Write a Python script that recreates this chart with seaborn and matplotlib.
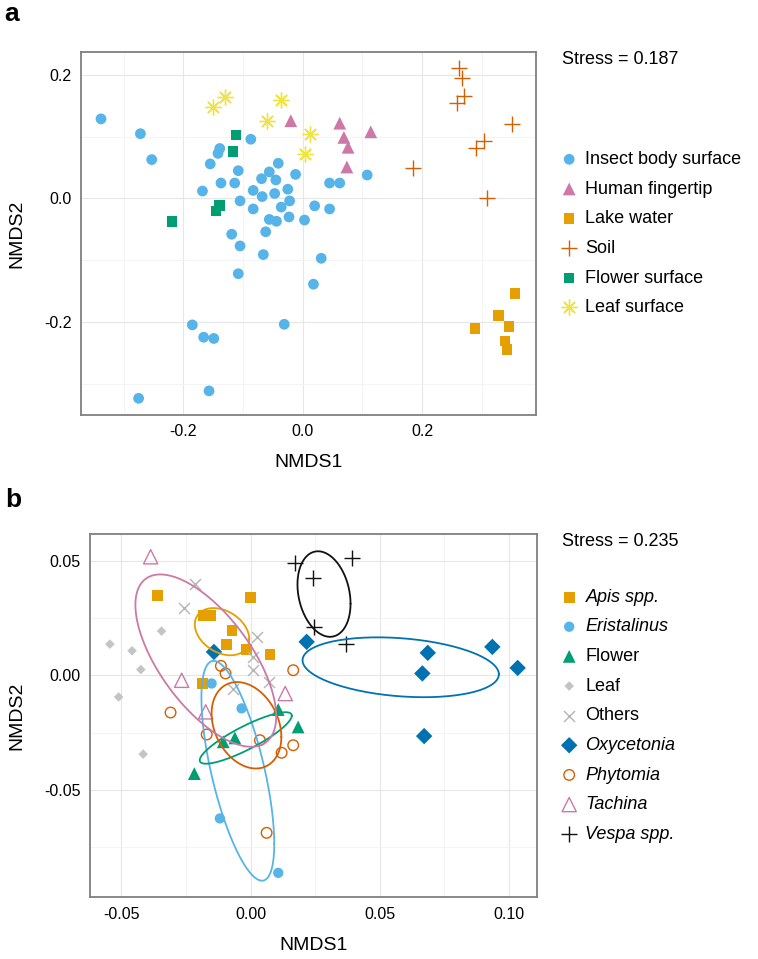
import numpy as np
import pandas as pd
import matplotlib as mpl
mpl.use('Agg')
import matplotlib.pyplot as plt
import seaborn as sns

sns.set_theme(style='white')
plt.rcParams['font.family'] = ['Liberation Sans', 'DejaVu Sans']
plt.rcParams['axes.unicode_minus'] = False
plt.rcParams['text.color'] = 'black'
plt.rcParams['axes.labelcolor'] = 'black'

# ---------------- panel a: sample sources ----------------
insect_x = [-0.338, -0.272, -0.253, -0.087, -0.139, -0.142, -0.155, -0.108, -0.041, -0.056,
            -0.012, -0.069, -0.045, 0.045, 0.062, 0.108, -0.137, -0.114, -0.168, -0.083,
            -0.025, -0.068, -0.047, -0.022, -0.105, -0.036, -0.083, 0.020, 0.045, -0.056,
            -0.044, -0.023, 0.003, -0.119, -0.062, -0.105, -0.066, 0.031, -0.108, 0.018,
            -0.185, -0.031, -0.166, -0.149, -0.157, -0.275]
insect_y = [0.129, 0.105, 0.063, 0.096, 0.081, 0.073, 0.056, 0.045, 0.057, 0.043,
            0.039, 0.032, 0.030, 0.025, 0.025, 0.038, 0.025, 0.025, 0.012, 0.013,
            0.015, 0.003, 0.008, -0.004, -0.004, -0.014, -0.017, -0.012, -0.017, -0.034,
            -0.037, -0.030, -0.035, -0.058, -0.054, -0.077, -0.091, -0.097, -0.122, -0.139,
            -0.205, -0.204, -0.225, -0.227, -0.312, -0.324]
human_x = [-0.020, 0.062, 0.069, 0.076, 0.074, 0.114]
human_y = [0.126, 0.122, 0.099, 0.083, 0.051, 0.108]
lake_x = [0.289, 0.328, 0.346, 0.339, 0.342, 0.356]
lake_y = [-0.211, -0.190, -0.208, -0.231, -0.245, -0.154]
soil_x = [0.262, 0.267, 0.271, 0.259, 0.351, 0.303, 0.290, 0.184, 0.309]
soil_y = [0.211, 0.195, 0.166, 0.155, 0.120, 0.093, 0.081, 0.050, 0.000]
flowsurf_x = [-0.112, -0.117, -0.139, -0.145, -0.219]
flowsurf_y = [0.103, 0.076, -0.011, -0.020, -0.037]
leafsurf_x = [-0.151, -0.131, -0.036, -0.060, 0.012, 0.003]
leafsurf_y = [0.149, 0.165, 0.159, 0.126, 0.105, 0.072]

a_groups = ['Insect body surface', 'Human fingertip', 'Lake water', 'Soil',
            'Flower surface', 'Leaf surface']
a_x = [insect_x, human_x, lake_x, soil_x, flowsurf_x, leafsurf_x]
a_y = [insect_y, human_y, lake_y, soil_y, flowsurf_y, leafsurf_y]
a_stress = 'Stress = 0.187'

# ---------------- panel b: insect taxa ----------------
apis_x = [-0.0362, -0.0184, -0.0155, 0.0000, -0.0072, -0.0094, -0.0017, 0.0075, -0.0187]
apis_y = [0.0351, 0.0261, 0.0264, 0.0341, 0.0198, 0.0135, 0.0115, 0.0093, -0.0035]
erist_x = [-0.0151, -0.0035, -0.0119, 0.0107]
erist_y = [-0.0035, -0.0144, -0.0625, -0.0863]
flower_x = [0.0107, 0.0184, -0.0061, -0.0106, -0.0218]
flower_y = [-0.0149, -0.0225, -0.0273, -0.0290, -0.0429]
leaf_x = [-0.0545, -0.0459, -0.0425, -0.0345, -0.0511, -0.0416]
leaf_y = [0.0137, 0.0108, 0.0026, 0.0194, -0.0094, -0.0344]
others_x = [-0.0216, -0.0257, 0.0023, 0.0008, 0.0008, 0.0072, -0.0067]
others_y = [0.0398, 0.0297, 0.0169, 0.0081, 0.0023, -0.0028, -0.0057]
oxy_x = [-0.0142, 0.0217, 0.0686, 0.0665, 0.0936, 0.1034, 0.0672]
oxy_y = [0.0103, 0.0147, 0.0099, 0.0009, 0.0125, 0.0033, -0.0265]
phyt_x = [-0.0115, -0.0097, 0.0165, -0.0310, -0.0170, 0.0036, 0.0120, 0.0165, 0.0062]
phyt_y = [0.0042, 0.0009, 0.0023, -0.0162, -0.0258, -0.0283, -0.0338, -0.0305, -0.0688]
tach_x = [-0.0387, -0.0267, -0.0174, 0.0134]
tach_y = [0.0519, -0.0021, -0.0159, -0.0079]
vespa_x = [0.0172, 0.0240, 0.0394, 0.0246, 0.0369]
vespa_y = [0.0492, 0.0427, 0.0512, 0.0213, 0.0136]

b_groups = ['Apis spp.', 'Eristalinus', 'Flower', 'Leaf', 'Others', 'Oxycetonia',
            'Phytomia', 'Tachina', 'Vespa spp.']
b_x = [apis_x, erist_x, flower_x, leaf_x, others_x, oxy_x, phyt_x, tach_x, vespa_x]
b_y = [apis_y, erist_y, flower_y, leaf_y, others_y, oxy_y, phyt_y, tach_y, vespa_y]
b_italic = ['Apis spp.', 'Eristalinus', 'Oxycetonia', 'Phytomia', 'Tachina', 'Vespa spp.']
b_ellipse = ['Apis spp.', 'Eristalinus', 'Flower', 'Oxycetonia', 'Phytomia', 'Tachina', 'Vespa spp.']
b_stress = 'Stress = 0.235'


def make_df(groups, xs, ys):
    return pd.concat([pd.DataFrame({'NMDS1': x, 'NMDS2': y, 'group': g})
                      for g, x, y in zip(groups, xs, ys)], ignore_index=True)


df_a = make_df(a_groups, a_x, a_y)
df_b = make_df(b_groups, b_x, b_y)

# marker styles (kind: fill / open / line)
a_style = {
    'Insect body surface': ('o', 60, '#56B4E9', 'fill', 0),
    'Human fingertip': ('^', 85, '#CC79A7', 'fill', 0),
    'Lake water': ('s', 58, '#E69F00', 'fill', 0),
    'Soil': ('+', 140, '#D55E00', 'line', 1.0),
    'Flower surface': ('s', 58, '#009E73', 'fill', 0),
    'Leaf surface': ((8, 2, 0), 115, '#F0E442', 'line', 1.0),
}
b_style = {
    'Apis spp.': ('s', 62, '#E69F00', 'fill', 0),
    'Eristalinus': ('o', 55, '#56B4E9', 'fill', 0),
    'Flower': ('^', 85, '#009E73', 'fill', 0),
    'Leaf': ('D', 24, '#C4C4C4', 'fill', 0),
    'Others': ('x', 62, '#B4B4B4', 'line', 1.0),
    'Oxycetonia': ('D', 70, '#0072B2', 'fill', 0),
    'Phytomia': ('o', 58, '#D55E00', 'open', 1.0),
    'Tachina': ('^', 105, '#CC79A7', 'open', 1.0),
    'Vespa spp.': ('+', 135, '#111111', 'line', 1.0),
}


def draw_points(ax, df, groups, styles):
    for g in groups:
        marker, size, col, kind, lw = styles[g]
        kw = dict(marker=marker, s=size, linewidth=lw, color=col, label=g, zorder=3)
        if kind == 'open':
            kw.update(facecolor='none', edgecolor=col)
        elif kind == 'fill':
            kw.update(edgecolor='none')
        sns.scatterplot(data=df[df.group == g], x='NMDS1', y='NMDS2', ax=ax,
                        legend=False, **kw)


def se_ellipse(x, y, conf=0.95, n=200):
    # standard-error ellipse of the group centroid
    pts = np.column_stack([x, y])
    center = pts.mean(axis=0)
    cov = np.cov(pts, rowvar=False)
    scale = np.sqrt(-2 * np.log(1 - conf)) / np.sqrt(len(pts))
    t = np.linspace(0, 2 * np.pi, n)
    circ = np.column_stack([np.cos(t), np.sin(t)])
    ell = center + scale * circ @ np.linalg.cholesky(cov).T
    return ell[:, 0], ell[:, 1]


def style_axes(ax, xmaj, xmin, ymaj, ymin, xlim, ylim, fmt):
    ax.set_xlim(*xlim)
    ax.set_ylim(*ylim)
    ax.set_xticks(xmaj)
    ax.set_xticks(xmin, minor=True)
    ax.set_yticks(ymaj)
    ax.set_yticks(ymin, minor=True)
    ax.set_xticklabels([fmt.format(v) for v in xmaj])
    ax.set_yticklabels([fmt.format(v) for v in ymaj])
    ax.grid(which='major', color='#E6E6E6', linewidth=0.8, zorder=0)
    ax.grid(which='minor', color='#F2F2F2', linewidth=0.6, zorder=0)
    ax.set_axisbelow(True)
    for sp in ax.spines.values():
        sp.set_color('#7F7F7F')
        sp.set_linewidth(1.3)
    ax.tick_params(which='major', direction='out', length=3.6, width=0.9,
                   color='#222222', labelsize=11.5, labelcolor='black', pad=3)
    ax.tick_params(which='minor', length=0)
    ax.set_xlabel('NMDS1', fontsize=14, va='center')
    ax.set_ylabel('NMDS2', fontsize=14, va='center')


fig = plt.figure(figsize=(7.58, 9.59), dpi=100)
ax_a = fig.add_axes([0.1065, 0.5673, 0.6007, 0.3782])
ax_b = fig.add_axes([0.1187, 0.0643, 0.5901, 0.3785])

# panel a
draw_points(ax_a, df_a, a_groups, a_style)
style_axes(ax_a, [-0.2, 0.0, 0.2], [-0.3, -0.1, 0.1, 0.3], [-0.2, 0.0, 0.2],
           [-0.3, -0.1, 0.1], (-0.372, 0.391), (-0.351, 0.237), '{:.1f}')
ax_a.xaxis.set_label_coords(0.5, -0.13)
ax_a.yaxis.set_label_coords(-0.14, 0.5)

# panel b
draw_points(ax_b, df_b, b_groups, b_style)
for g in b_ellipse:
    sub = df_b[df_b.group == g]
    ex, ey = se_ellipse(sub.NMDS1.values, sub.NMDS2.values)
    ax_b.plot(ex, ey, color=b_style[g][2], linewidth=1.3, zorder=4)
style_axes(ax_b, [-0.05, 0.0, 0.05, 0.10], [-0.025, 0.025, 0.075], [-0.05, 0.0, 0.05],
           [-0.075, -0.025, 0.025], (-0.0622, 0.111), (-0.097, 0.0617), '{:.2f}')
ax_b.xaxis.set_label_coords(0.5, -0.134)
ax_b.yaxis.set_label_coords(-0.163, 0.5)

# legends outside the panels
for ax, top in [(ax_a, 0.8425), (ax_b, 0.386)]:
    h, l = ax.get_legend_handles_labels()
    leg = ax.legend(h, l, loc='upper left', bbox_to_anchor=(0.739, top),
                    bbox_transform=fig.transFigure, frameon=False, fontsize=13,
                    handletextpad=0.4, labelspacing=0.7, borderpad=0,
                    borderaxespad=0, handlelength=1.0, scatterpoints=1)
    if ax is ax_b:
        for t in leg.get_texts():
            if t.get_text() in b_italic:
                t.set_fontstyle('italic')

fig.text(562 / 758, 1 - 59 / 959, a_stress, fontsize=13, va='center', ha='left')
fig.text(562 / 758, 1 - 541.7 / 959, b_stress, fontsize=13, va='center', ha='left')
fig.text(4 / 758, 1 - 21 / 959, 'a', fontsize=19, fontweight='bold', va='baseline')
fig.text(5 / 758, 1 - 507.5 / 959, 'b', fontsize=19, fontweight='bold', va='baseline')

fig.savefig('out.png', dpi=100)
